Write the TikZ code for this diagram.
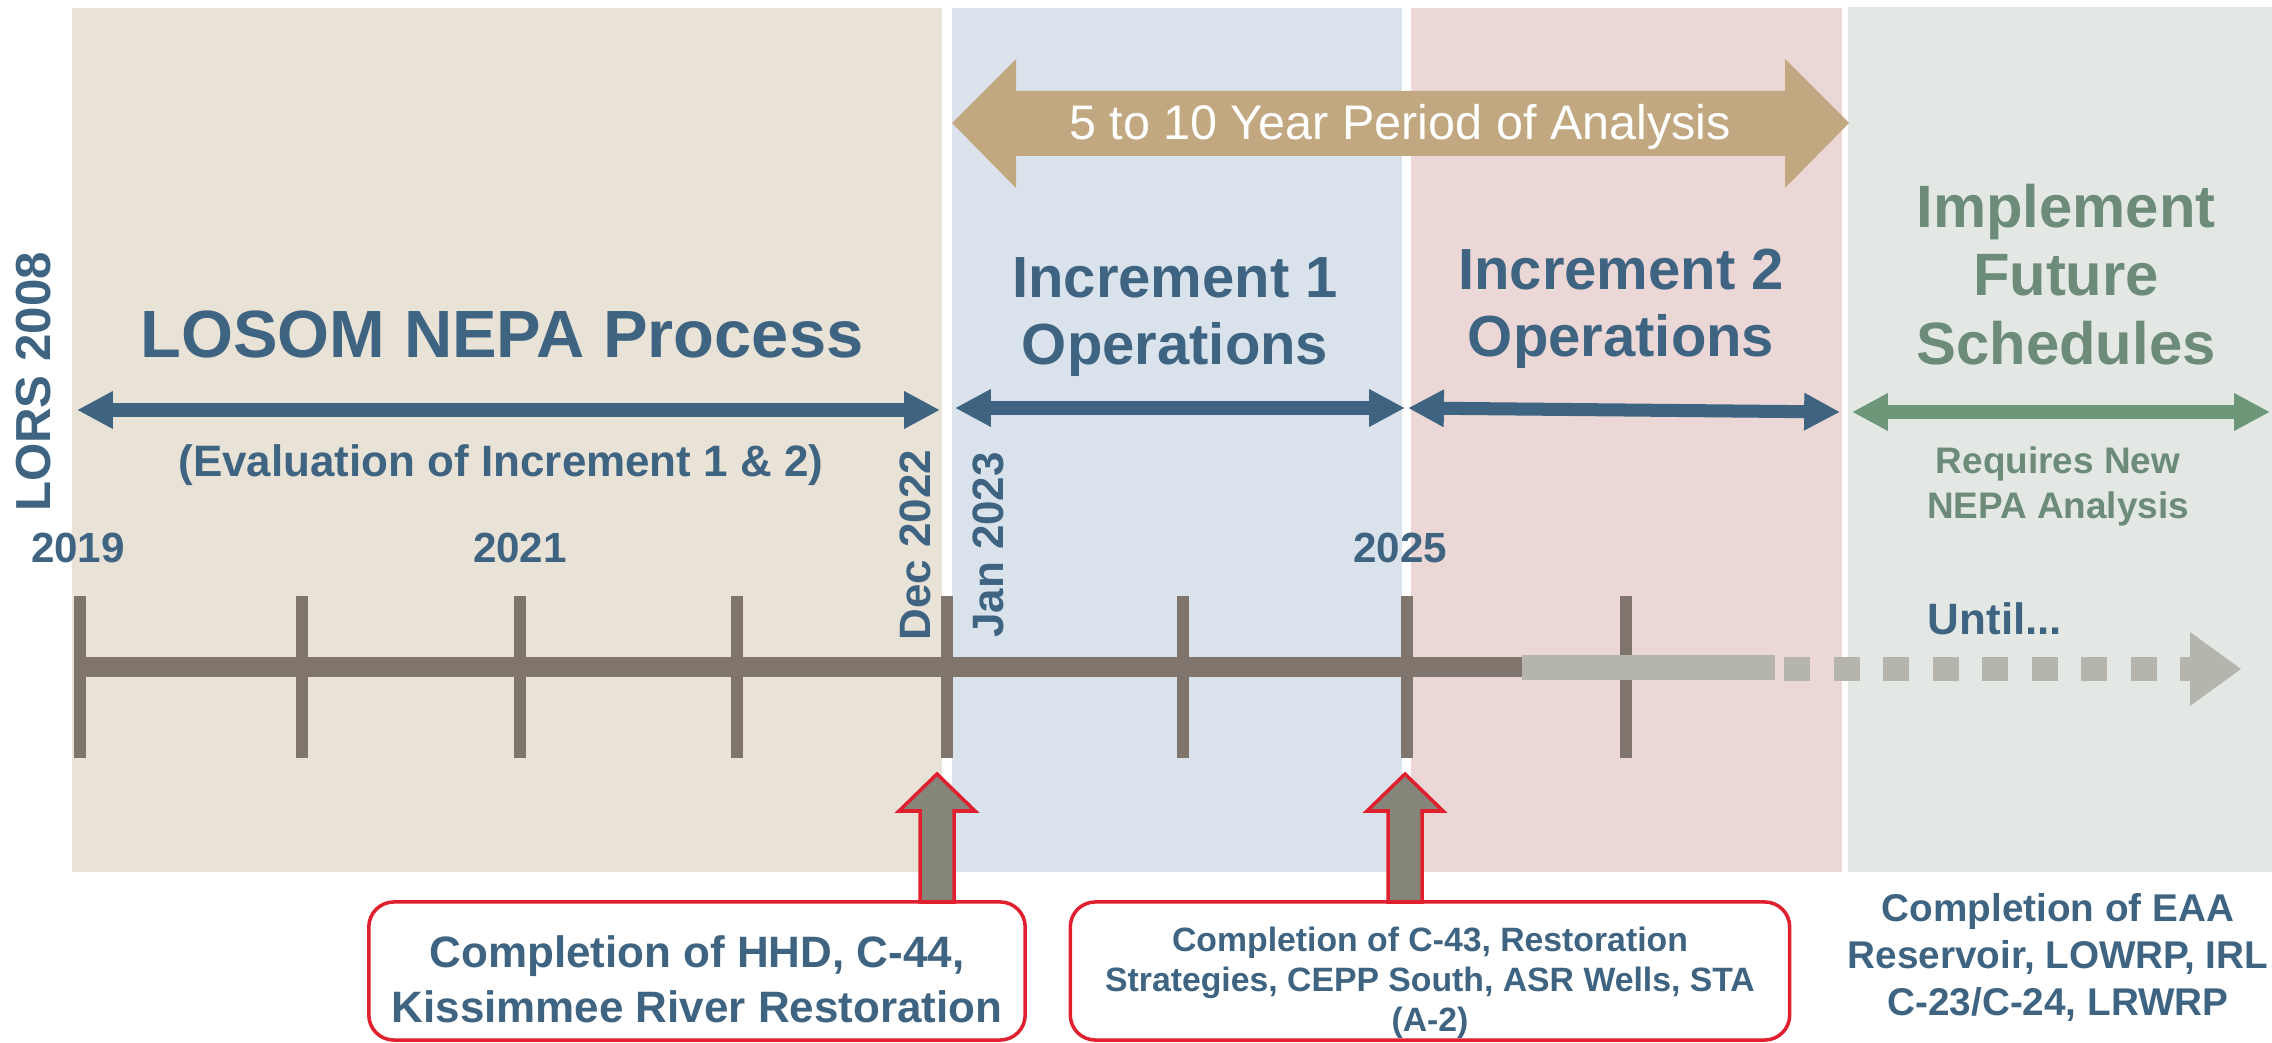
\documentclass[tikz,border=0pt]{standalone}
\usepackage{fontspec}
\setmainfont{Liberation Sans}
\usepackage{xcolor}
\usepackage{tikz}
\usetikzlibrary{arrows.meta,positioning}

\definecolor{panelTan}{HTML}{E9E2D6}
\definecolor{panelBlue}{HTML}{DAE3EC}
\definecolor{panelPink}{HTML}{EAD7D6}
\definecolor{panelGrey}{HTML}{E4E8E4}
\definecolor{slateBlue}{HTML}{3E6482}
\definecolor{sageGreen}{HTML}{6E977A}
\definecolor{sageText}{HTML}{6C8B78}
\definecolor{bandTan}{HTML}{C1A880}
\definecolor{lineDark}{HTML}{7F756D}
\definecolor{lineLight}{HTML}{B5B5AE}
\definecolor{alertRed}{HTML}{E0202E}
\definecolor{arrowGrey}{HTML}{858679}

\begin{document}
\begin{tikzpicture}[x=0.01cm, y=-0.01cm,
    span/.style={line width=3.7pt, draw=slateBlue,
      >={Triangle[length=10.2pt,width=10pt]}, <->},
    bluelbl/.style={text=slateBlue, inner sep=0pt, align=center},
    greenlbl/.style={text=sageText, inner sep=0pt, align=center},
    yearlbl/.style={bluelbl, font=\fontsize{12}{14}\selectfont\bfseries, anchor=base},
    datelbl/.style={bluelbl, font=\fontsize{12.5}{15}\selectfont\bfseries, anchor=base, rotate=90},
    tickmark/.style={draw=lineDark, line width=3.4pt},
    timebar/.style={draw=lineDark, line width=5.7pt},
    futurebar/.style={draw=lineLight, line width=7.1pt},
    combox/.style={draw=alertRed, line width=1pt, fill=white, rounded corners=0.25cm,
      minimum height=1.38cm, inner sep=0pt},
    uparrow/.style={fill=arrowGrey, draw=alertRed, line width=1pt, line join=miter}]
  \useasboundingbox (0,0) rectangle (2272,1043);

  % background panels
  \fill[panelTan] (72,8) rectangle (942,872);
  \fill[panelBlue] (952,8) rectangle (1402,872);
  \fill[panelPink] (1411,8) rectangle (1842,872);
  \fill[panelGrey] (1848,7) rectangle (2272,872);

  % analysis period band
  \fill[bandTan] (952,123) -- (1016,59) -- (1016,91) -- (1785,91) -- (1785,59)
    -- (1849,123) -- (1785,188) -- (1785,156) -- (1016,156) -- (1016,188) -- cycle;
  \node[text=white, inner sep=0pt, anchor=base, font=\fontsize{13.8}{16}\selectfont]
    (period) at (1400,140) {5 to 10 Year Period of Analysis};

  % phase titles
  \node[bluelbl, anchor=base, font=\fontsize{19}{22}\selectfont\bfseries]
    (nepa) at (502,358) {LOSOM NEPA Process};
  \node[bluelbl, anchor=base, font=\fontsize{12.5}{15}\selectfont\bfseries]
    (evalnote) at (501,477) {(Evaluation of Increment 1 \& 2)};
  \node[bluelbl, anchor=north, font=\fontsize{16.5}{19}\selectfont\bfseries]
    (incA) at (1175,257) {Increment 1\\Operations};
  \node[bluelbl, anchor=north, font=\fontsize{16.5}{19}\selectfont\bfseries]
    (incB) at (1621,248) {Increment 2\\Operations};
  \node[greenlbl, anchor=north, font=\fontsize{17}{19.6}\selectfont\bfseries]
    (future) at (2066,183) {Implement\\Future\\Schedules};
  \node[greenlbl, anchor=north, font=\fontsize{10.5}{12.8}\selectfont\bfseries]
    (newnepa) at (2058,446) {Requires New\\NEPA Analysis};

  % phase spans
  \coordinate (nepaL) at (77,410);
  \coordinate (nepaR) at (940,410);
  \coordinate (incAL) at (955,408);
  \coordinate (incAR) at (1405,408);
  \coordinate (incBL) at (1408,408);
  \coordinate (incBR) at (1840,412);
  \coordinate (futL) at (1852,412);
  \coordinate (futR) at (2270,412);
  \draw[span] (nepaL) -- (nepaR);
  \draw[span] (incAL) -- (incAR);
  \draw[span] (incBL) -- (incBR);
  \draw[span, draw=sageGreen] (futL) -- (futR);

  % dates
  \node[datelbl, font=\fontsize{14}{16}\selectfont\bfseries] (lors) at (51,382) {LORS 2008};
  \node[datelbl] (dec) at (930,545) {Dec 2022};
  \node[datelbl] (jan) at (1003,545) {Jan 2023};
  \node[yearlbl] (y2019) at (78,563) {2019};
  \node[yearlbl] (y2021) at (520,563) {2021};
  \node[yearlbl] (y2025) at (1400,563) {2025};
  \node[bluelbl, anchor=base, font=\fontsize{12.5}{15}\selectfont\bfseries]
    (until) at (1995,635) {Until...};

  % time line
  \foreach \tx in {80,302,520,737,947,1183,1407,1626}
    \draw[tickmark] (\tx,596) -- (\tx,758);
  \draw[timebar] (74,667) -- (1522,667);
  \draw[futurebar] (1522,667.5) -- (1775,667.5);
  \draw[futurebar, dash pattern=on 7.4pt off 6.68pt] (1784,669) -- (2190,669);
  \fill[lineLight] (2190,632) -- (2241,669) -- (2190,706) -- cycle;

  % completion boxes
  \node[combox, minimum width=6.56cm] (hhdbox) at (697,971) {};
  \node[bluelbl, anchor=north, font=\fontsize{12.5}{15.6}\selectfont\bfseries]
    (hhd) at (697,935) {Completion of HHD, C-44,\\Kissimmee River Restoration};
  \node[combox, minimum width=7.19cm] (c43box) at (1430,971) {};
  \node[bluelbl, anchor=north, font=\fontsize{9.6}{11.4}\selectfont\bfseries]
    (c43) at (1430,926) {Completion of C-43, Restoration\\Strategies, CEPP South, ASR Wells, STA\\(A-2)};
  \node[bluelbl, anchor=north, font=\fontsize{11}{13.4}\selectfont\bfseries]
    (eaa) at (2058,893) {Completion of EAA\\Reservoir, LOWRP, IRL\\C-23/C-24, LRWRP};

  % pointers from boxes up to the time line
  \coordinate (tipA) at (937,774);
  \coordinate (tipB) at (1405,774);
  \foreach \tp in {tipA,tipB}
    \filldraw[uparrow] (\tp) -- ++(38,37) -- ++(-21,0) -- ++(0,91) -- ++(-34,0)
      -- ++(0,-91) -- ++(-21,0) -- cycle;
\end{tikzpicture}
\end{document}
